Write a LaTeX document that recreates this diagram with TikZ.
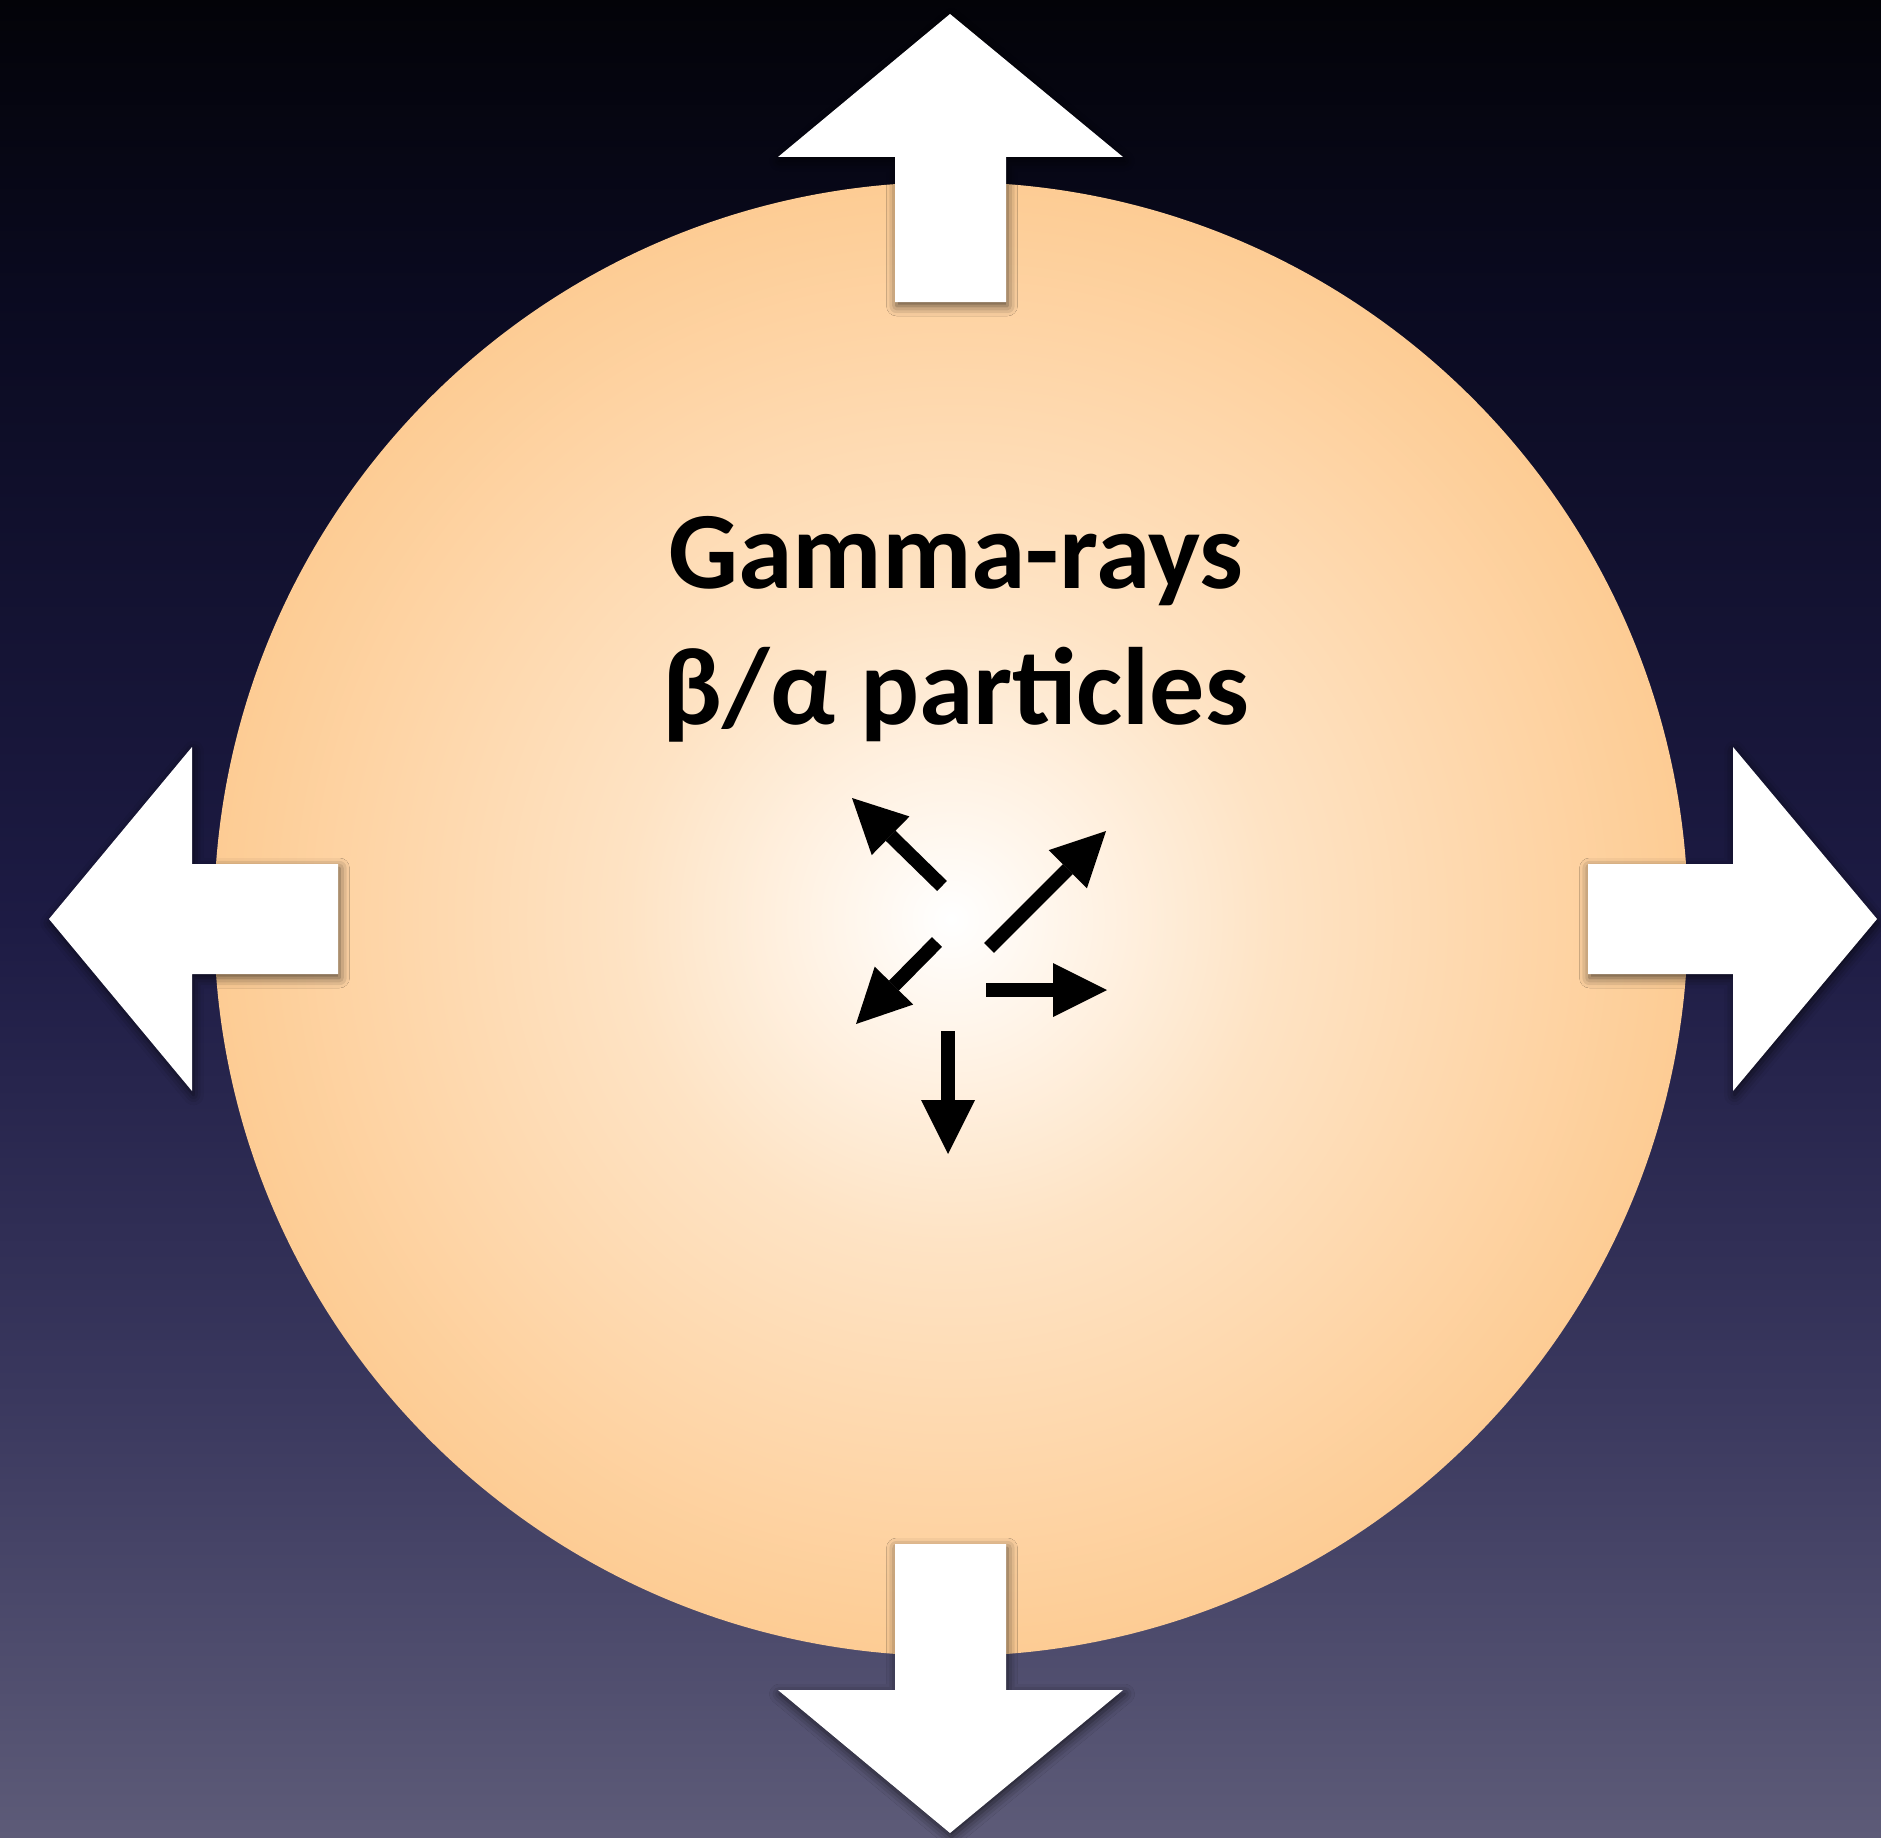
\documentclass[tikz,border=0pt]{standalone}
\usepackage{fontspec}
\setmainfont{Carlito}
\usetikzlibrary{arrows.meta,shadows.blur}
\definecolor{bgA}{HTML}{030308}
\definecolor{bgB}{HTML}{0A0A20}
\definecolor{bgC}{HTML}{1D1B44}
\definecolor{bgD}{HTML}{3A385E}
\definecolor{bgE}{HTML}{5D5B78}
\definecolor{sunA}{HTML}{FFF7EE}
\definecolor{sunB}{HTML}{FEE3C4}
\definecolor{sunC}{HTML}{FED6A9}
\definecolor{sunD}{HTML}{FDCC94}
\pgfdeclareverticalshading{bgshade}{100bp}{color(0bp)=(bgE); color(25bp)=(bgE); color(37bp)=(bgD); color(50bp)=(bgC); color(67bp)=(bgB); color(75bp)=(bgA); color(100bp)=(bgA)}
\pgfdeclareradialshading{sunshade}{\pgfpoint{0bp}{0bp}}{color(0bp)=(white); color(3bp)=(sunA); color(11bp)=(sunB); color(19bp)=(sunC); color(25bp)=(sunD); color(50bp)=(sunD)}
\tikzset{
  bigarrow/.style={fill=white, blur shadow={shadow xshift=1.5pt, shadow yshift=-4pt, shadow blur radius=10pt, shadow opacity=65}},
  particle/.style={line width=14pt, black, -{Triangle[length=54pt,width=54pt,line width=0pt]}},
  label/.style={font=\fontsize{110}{136}\selectfont\bfseries, text=black, inner sep=0pt}
}
\begin{document}
\begin{tikzpicture}[x=1pt,y=-1pt]
\useasboundingbox (0,0) rectangle (1881,1838);
\shade[shading=bgshade] (0,0) rectangle (1881,1838);
\shade[shading=sunshade] (951,919) circle [radius=737pt];
% big white arrows
\fill[bigarrow] (895,302) -- (895,157) -- (778,157) -- (950,14) -- (1123,157) -- (1006,157) -- (1006,302) -- cycle;
\fill[bigarrow] (895,1544) -- (895,1690) -- (778,1690) -- (950,1833) -- (1123,1690) -- (1006,1690) -- (1006,1544) -- cycle;
\fill[bigarrow] (338,864) -- (192,864) -- (192,747) -- (49,919) -- (192,1091) -- (192,974) -- (338,974) -- cycle;
\fill[bigarrow] (1588,864) -- (1733,864) -- (1733,747) -- (1877,919) -- (1733,1091) -- (1733,974) -- (1588,974) -- cycle;
% text
\node[label, anchor=base] (l1) at (956,588) {Gamma-rays};
\node[label, anchor=base] (l2) at (956,724) {β/α particles};
% small particle arrows
\coordinate (ulA) at (942,886); \coordinate (ulB) at (852,798);
\coordinate (urA) at (989,948); \coordinate (urB) at (1106,831);
\coordinate (dlA) at (937,942); \coordinate (dlB) at (856,1024);
\coordinate (rA) at (986,990); \coordinate (rB) at (1107,990);
\coordinate (dA) at (948,1031); \coordinate (dB) at (948,1154);
\draw[particle] (ulA) -- (ulB);
\draw[particle] (urA) -- (urB);
\draw[particle] (dlA) -- (dlB);
\draw[particle] (rA) -- (rB);
\draw[particle] (dA) -- (dB);
\end{tikzpicture}
\end{document}
